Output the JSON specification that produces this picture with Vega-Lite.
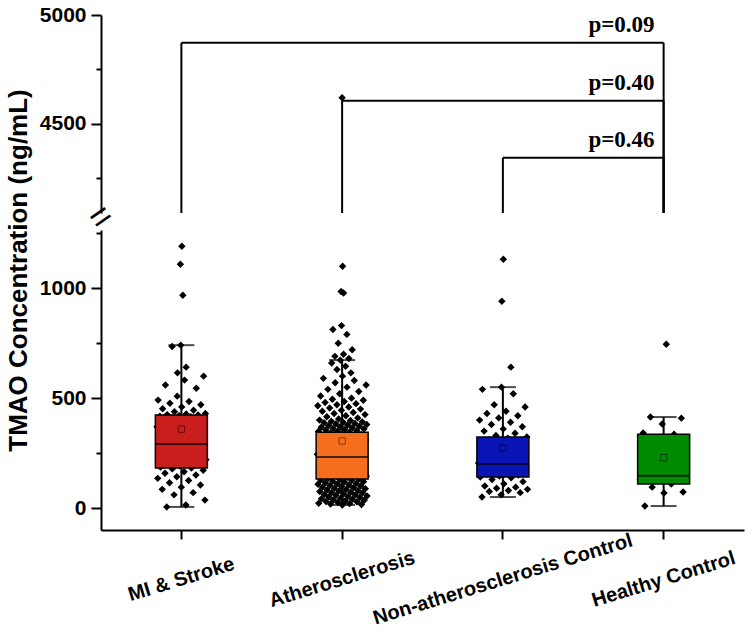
{
  "$schema": "https://vega.github.io/schema/vega-lite/v6.json",
  "padding": {"left": 5, "top": 4, "right": 5, "bottom": 5},
  "background": "white",
  "bounds": "flush",
  "spacing": 17,
  "config": {
    "view": {"stroke": null},
    "axis": {
      "grid": false,
      "domainColor": "black",
      "domainWidth": 2,
      "tickColor": "black",
      "tickWidth": 2,
      "labelFont": "Liberation Sans",
      "labelFontWeight": "bold",
      "labelColor": "black",
      "titleFont": "Liberation Sans",
      "titleFontWeight": "bold",
      "titleColor": "black"
    }
  },
  "datasets": {
    "stats": [
      {"group": "MI & Stroke", "lo": 5, "q1": 182, "med": 291, "q3": 423, "hi": 741, "mean": 359},
      {"group": "Atherosclerosis", "lo": 14, "q1": 132, "med": 232, "q3": 345, "hi": 673, "mean": 305},
      {"group": "Non-atherosclerosis Control", "lo": 50, "q1": 141, "med": 200, "q3": 323, "hi": 550, "mean": 273},
      {"group": "Healthy Control", "lo": 9, "q1": 109, "med": 147, "q3": 336, "hi": 414, "mean": 229}
    ],
    "brackets": [
      {"from": "MI & Stroke", "to": "Healthy Control", "y": 4872, "p": "p=0.09"},
      {"from": "Atherosclerosis", "to": "Healthy Control", "y": 4606, "p": "p=0.40"},
      {"from": "Non-atherosclerosis Control", "to": "Healthy Control", "y": 4344, "p": "p=0.46"}
    ],
    "points": [
      {"group": "MI & Stroke", "value": 1191}, {"group": "MI & Stroke", "value": 1109}, {"group": "MI & Stroke", "value": 968}, {"group": "MI & Stroke", "value": 741}, {"group": "MI & Stroke", "value": 735}, {"group": "MI & Stroke", "value": 641}, {"group": "MI & Stroke", "value": 615}, {"group": "MI & Stroke", "value": 600}, {"group": "MI & Stroke", "value": 582}, {"group": "MI & Stroke", "value": 560}, {"group": "MI & Stroke", "value": 545}, {"group": "MI & Stroke", "value": 509}, {"group": "MI & Stroke", "value": 491}, {"group": "MI & Stroke", "value": 485}, {"group": "MI & Stroke", "value": 477}, {"group": "MI & Stroke", "value": 470}, {"group": "MI & Stroke", "value": 460}, {"group": "MI & Stroke", "value": 452}, {"group": "MI & Stroke", "value": 445}, {"group": "MI & Stroke", "value": 438}, {"group": "MI & Stroke", "value": 430}, {"group": "MI & Stroke", "value": 428}, {"group": "MI & Stroke", "value": 425}, {"group": "MI & Stroke", "value": 423}, {"group": "MI & Stroke", "value": 420}, {"group": "MI & Stroke", "value": 418}, {"group": "MI & Stroke", "value": 415}, {"group": "MI & Stroke", "value": 410}, {"group": "MI & Stroke", "value": 405}, {"group": "MI & Stroke", "value": 398}, {"group": "MI & Stroke", "value": 390}, {"group": "MI & Stroke", "value": 385}, {"group": "MI & Stroke", "value": 378}, {"group": "MI & Stroke", "value": 370}, {"group": "MI & Stroke", "value": 362}, {"group": "MI & Stroke", "value": 355}, {"group": "MI & Stroke", "value": 350}, {"group": "MI & Stroke", "value": 342}, {"group": "MI & Stroke", "value": 335}, {"group": "MI & Stroke", "value": 328}, {"group": "MI & Stroke", "value": 320}, {"group": "MI & Stroke", "value": 312}, {"group": "MI & Stroke", "value": 305}, {"group": "MI & Stroke", "value": 298}, {"group": "MI & Stroke", "value": 292}, {"group": "MI & Stroke", "value": 288}, {"group": "MI & Stroke", "value": 280}, {"group": "MI & Stroke", "value": 272}, {"group": "MI & Stroke", "value": 265}, {"group": "MI & Stroke", "value": 258}, {"group": "MI & Stroke", "value": 250}, {"group": "MI & Stroke", "value": 242}, {"group": "MI & Stroke", "value": 235}, {"group": "MI & Stroke", "value": 228}, {"group": "MI & Stroke", "value": 220}, {"group": "MI & Stroke", "value": 212}, {"group": "MI & Stroke", "value": 205}, {"group": "MI & Stroke", "value": 198}, {"group": "MI & Stroke", "value": 192}, {"group": "MI & Stroke", "value": 186}, {"group": "MI & Stroke", "value": 182}, {"group": "MI & Stroke", "value": 178}, {"group": "MI & Stroke", "value": 172}, {"group": "MI & Stroke", "value": 165}, {"group": "MI & Stroke", "value": 158}, {"group": "MI & Stroke", "value": 150}, {"group": "MI & Stroke", "value": 142}, {"group": "MI & Stroke", "value": 135}, {"group": "MI & Stroke", "value": 125}, {"group": "MI & Stroke", "value": 115}, {"group": "MI & Stroke", "value": 105}, {"group": "MI & Stroke", "value": 95}, {"group": "MI & Stroke", "value": 85}, {"group": "MI & Stroke", "value": 70}, {"group": "MI & Stroke", "value": 60}, {"group": "MI & Stroke", "value": 36}, {"group": "MI & Stroke", "value": 14}, {"group": "MI & Stroke", "value": 5},
      {"group": "Atherosclerosis", "value": 4620}, {"group": "Atherosclerosis", "value": 1100}, {"group": "Atherosclerosis", "value": 985}, {"group": "Atherosclerosis", "value": 978}, {"group": "Atherosclerosis", "value": 830}, {"group": "Atherosclerosis", "value": 812}, {"group": "Atherosclerosis", "value": 790}, {"group": "Atherosclerosis", "value": 750}, {"group": "Atherosclerosis", "value": 720}, {"group": "Atherosclerosis", "value": 700}, {"group": "Atherosclerosis", "value": 690}, {"group": "Atherosclerosis", "value": 680}, {"group": "Atherosclerosis", "value": 673}, {"group": "Atherosclerosis", "value": 660}, {"group": "Atherosclerosis", "value": 645}, {"group": "Atherosclerosis", "value": 630}, {"group": "Atherosclerosis", "value": 615}, {"group": "Atherosclerosis", "value": 600}, {"group": "Atherosclerosis", "value": 590}, {"group": "Atherosclerosis", "value": 580}, {"group": "Atherosclerosis", "value": 570}, {"group": "Atherosclerosis", "value": 560}, {"group": "Atherosclerosis", "value": 550}, {"group": "Atherosclerosis", "value": 540}, {"group": "Atherosclerosis", "value": 530}, {"group": "Atherosclerosis", "value": 520}, {"group": "Atherosclerosis", "value": 510}, {"group": "Atherosclerosis", "value": 500}, {"group": "Atherosclerosis", "value": 495}, {"group": "Atherosclerosis", "value": 490}, {"group": "Atherosclerosis", "value": 485}, {"group": "Atherosclerosis", "value": 480}, {"group": "Atherosclerosis", "value": 475}, {"group": "Atherosclerosis", "value": 470}, {"group": "Atherosclerosis", "value": 465}, {"group": "Atherosclerosis", "value": 460}, {"group": "Atherosclerosis", "value": 455}, {"group": "Atherosclerosis", "value": 450}, {"group": "Atherosclerosis", "value": 445}, {"group": "Atherosclerosis", "value": 440}, {"group": "Atherosclerosis", "value": 435}, {"group": "Atherosclerosis", "value": 430}, {"group": "Atherosclerosis", "value": 425}, {"group": "Atherosclerosis", "value": 420}, {"group": "Atherosclerosis", "value": 415}, {"group": "Atherosclerosis", "value": 410}, {"group": "Atherosclerosis", "value": 405}, {"group": "Atherosclerosis", "value": 400}, {"group": "Atherosclerosis", "value": 398}, {"group": "Atherosclerosis", "value": 395}, {"group": "Atherosclerosis", "value": 392}, {"group": "Atherosclerosis", "value": 390}, {"group": "Atherosclerosis", "value": 388}, {"group": "Atherosclerosis", "value": 385}, {"group": "Atherosclerosis", "value": 382}, {"group": "Atherosclerosis", "value": 380}, {"group": "Atherosclerosis", "value": 378}, {"group": "Atherosclerosis", "value": 375}, {"group": "Atherosclerosis", "value": 372}, {"group": "Atherosclerosis", "value": 370}, {"group": "Atherosclerosis", "value": 368}, {"group": "Atherosclerosis", "value": 365}, {"group": "Atherosclerosis", "value": 362}, {"group": "Atherosclerosis", "value": 360}, {"group": "Atherosclerosis", "value": 358}, {"group": "Atherosclerosis", "value": 355}, {"group": "Atherosclerosis", "value": 352}, {"group": "Atherosclerosis", "value": 350}, {"group": "Atherosclerosis", "value": 348}, {"group": "Atherosclerosis", "value": 345}, {"group": "Atherosclerosis", "value": 340}, {"group": "Atherosclerosis", "value": 335}, {"group": "Atherosclerosis", "value": 330}, {"group": "Atherosclerosis", "value": 325}, {"group": "Atherosclerosis", "value": 320}, {"group": "Atherosclerosis", "value": 315}, {"group": "Atherosclerosis", "value": 310}, {"group": "Atherosclerosis", "value": 305}, {"group": "Atherosclerosis", "value": 300}, {"group": "Atherosclerosis", "value": 295}, {"group": "Atherosclerosis", "value": 290}, {"group": "Atherosclerosis", "value": 285}, {"group": "Atherosclerosis", "value": 280}, {"group": "Atherosclerosis", "value": 275}, {"group": "Atherosclerosis", "value": 270}, {"group": "Atherosclerosis", "value": 265}, {"group": "Atherosclerosis", "value": 260}, {"group": "Atherosclerosis", "value": 255}, {"group": "Atherosclerosis", "value": 250}, {"group": "Atherosclerosis", "value": 245}, {"group": "Atherosclerosis", "value": 240}, {"group": "Atherosclerosis", "value": 235}, {"group": "Atherosclerosis", "value": 232}, {"group": "Atherosclerosis", "value": 228}, {"group": "Atherosclerosis", "value": 224}, {"group": "Atherosclerosis", "value": 220}, {"group": "Atherosclerosis", "value": 215}, {"group": "Atherosclerosis", "value": 210}, {"group": "Atherosclerosis", "value": 205}, {"group": "Atherosclerosis", "value": 200}, {"group": "Atherosclerosis", "value": 195}, {"group": "Atherosclerosis", "value": 190}, {"group": "Atherosclerosis", "value": 185}, {"group": "Atherosclerosis", "value": 180}, {"group": "Atherosclerosis", "value": 175}, {"group": "Atherosclerosis", "value": 170}, {"group": "Atherosclerosis", "value": 165}, {"group": "Atherosclerosis", "value": 160}, {"group": "Atherosclerosis", "value": 155}, {"group": "Atherosclerosis", "value": 150}, {"group": "Atherosclerosis", "value": 145}, {"group": "Atherosclerosis", "value": 140}, {"group": "Atherosclerosis", "value": 135}, {"group": "Atherosclerosis", "value": 132}, {"group": "Atherosclerosis", "value": 130}, {"group": "Atherosclerosis", "value": 128}, {"group": "Atherosclerosis", "value": 125}, {"group": "Atherosclerosis", "value": 122}, {"group": "Atherosclerosis", "value": 120}, {"group": "Atherosclerosis", "value": 118}, {"group": "Atherosclerosis", "value": 115}, {"group": "Atherosclerosis", "value": 112}, {"group": "Atherosclerosis", "value": 110}, {"group": "Atherosclerosis", "value": 108}, {"group": "Atherosclerosis", "value": 105}, {"group": "Atherosclerosis", "value": 102}, {"group": "Atherosclerosis", "value": 100}, {"group": "Atherosclerosis", "value": 98}, {"group": "Atherosclerosis", "value": 95}, {"group": "Atherosclerosis", "value": 92}, {"group": "Atherosclerosis", "value": 90}, {"group": "Atherosclerosis", "value": 88}, {"group": "Atherosclerosis", "value": 85}, {"group": "Atherosclerosis", "value": 82}, {"group": "Atherosclerosis", "value": 80}, {"group": "Atherosclerosis", "value": 78}, {"group": "Atherosclerosis", "value": 75}, {"group": "Atherosclerosis", "value": 72}, {"group": "Atherosclerosis", "value": 70}, {"group": "Atherosclerosis", "value": 68}, {"group": "Atherosclerosis", "value": 65}, {"group": "Atherosclerosis", "value": 62}, {"group": "Atherosclerosis", "value": 60}, {"group": "Atherosclerosis", "value": 58}, {"group": "Atherosclerosis", "value": 55}, {"group": "Atherosclerosis", "value": 52}, {"group": "Atherosclerosis", "value": 50}, {"group": "Atherosclerosis", "value": 48}, {"group": "Atherosclerosis", "value": 45}, {"group": "Atherosclerosis", "value": 42}, {"group": "Atherosclerosis", "value": 40}, {"group": "Atherosclerosis", "value": 38}, {"group": "Atherosclerosis", "value": 35}, {"group": "Atherosclerosis", "value": 32}, {"group": "Atherosclerosis", "value": 30}, {"group": "Atherosclerosis", "value": 28}, {"group": "Atherosclerosis", "value": 25}, {"group": "Atherosclerosis", "value": 22}, {"group": "Atherosclerosis", "value": 20}, {"group": "Atherosclerosis", "value": 18}, {"group": "Atherosclerosis", "value": 16}, {"group": "Atherosclerosis", "value": 14},
      {"group": "Non-atherosclerosis Control", "value": 1132}, {"group": "Non-atherosclerosis Control", "value": 941}, {"group": "Non-atherosclerosis Control", "value": 641}, {"group": "Non-atherosclerosis Control", "value": 550}, {"group": "Non-atherosclerosis Control", "value": 540}, {"group": "Non-atherosclerosis Control", "value": 520}, {"group": "Non-atherosclerosis Control", "value": 470}, {"group": "Non-atherosclerosis Control", "value": 460}, {"group": "Non-atherosclerosis Control", "value": 440}, {"group": "Non-atherosclerosis Control", "value": 430}, {"group": "Non-atherosclerosis Control", "value": 420}, {"group": "Non-atherosclerosis Control", "value": 410}, {"group": "Non-atherosclerosis Control", "value": 400}, {"group": "Non-atherosclerosis Control", "value": 390}, {"group": "Non-atherosclerosis Control", "value": 380}, {"group": "Non-atherosclerosis Control", "value": 370}, {"group": "Non-atherosclerosis Control", "value": 360}, {"group": "Non-atherosclerosis Control", "value": 350}, {"group": "Non-atherosclerosis Control", "value": 340}, {"group": "Non-atherosclerosis Control", "value": 330}, {"group": "Non-atherosclerosis Control", "value": 323}, {"group": "Non-atherosclerosis Control", "value": 318}, {"group": "Non-atherosclerosis Control", "value": 310}, {"group": "Non-atherosclerosis Control", "value": 300}, {"group": "Non-atherosclerosis Control", "value": 290}, {"group": "Non-atherosclerosis Control", "value": 280}, {"group": "Non-atherosclerosis Control", "value": 270}, {"group": "Non-atherosclerosis Control", "value": 260}, {"group": "Non-atherosclerosis Control", "value": 250}, {"group": "Non-atherosclerosis Control", "value": 240}, {"group": "Non-atherosclerosis Control", "value": 230}, {"group": "Non-atherosclerosis Control", "value": 220}, {"group": "Non-atherosclerosis Control", "value": 210}, {"group": "Non-atherosclerosis Control", "value": 205}, {"group": "Non-atherosclerosis Control", "value": 200}, {"group": "Non-atherosclerosis Control", "value": 195}, {"group": "Non-atherosclerosis Control", "value": 190}, {"group": "Non-atherosclerosis Control", "value": 185}, {"group": "Non-atherosclerosis Control", "value": 180}, {"group": "Non-atherosclerosis Control", "value": 175}, {"group": "Non-atherosclerosis Control", "value": 170}, {"group": "Non-atherosclerosis Control", "value": 165}, {"group": "Non-atherosclerosis Control", "value": 160}, {"group": "Non-atherosclerosis Control", "value": 155}, {"group": "Non-atherosclerosis Control", "value": 150}, {"group": "Non-atherosclerosis Control", "value": 145}, {"group": "Non-atherosclerosis Control", "value": 141}, {"group": "Non-atherosclerosis Control", "value": 138}, {"group": "Non-atherosclerosis Control", "value": 130}, {"group": "Non-atherosclerosis Control", "value": 120}, {"group": "Non-atherosclerosis Control", "value": 110}, {"group": "Non-atherosclerosis Control", "value": 100}, {"group": "Non-atherosclerosis Control", "value": 95}, {"group": "Non-atherosclerosis Control", "value": 90}, {"group": "Non-atherosclerosis Control", "value": 85}, {"group": "Non-atherosclerosis Control", "value": 80}, {"group": "Non-atherosclerosis Control", "value": 75}, {"group": "Non-atherosclerosis Control", "value": 70}, {"group": "Non-atherosclerosis Control", "value": 60}, {"group": "Non-atherosclerosis Control", "value": 50},
      {"group": "Healthy Control", "value": 745}, {"group": "Healthy Control", "value": 414}, {"group": "Healthy Control", "value": 409}, {"group": "Healthy Control", "value": 382}, {"group": "Healthy Control", "value": 341}, {"group": "Healthy Control", "value": 336}, {"group": "Healthy Control", "value": 320}, {"group": "Healthy Control", "value": 290}, {"group": "Healthy Control", "value": 250}, {"group": "Healthy Control", "value": 200}, {"group": "Healthy Control", "value": 160}, {"group": "Healthy Control", "value": 147}, {"group": "Healthy Control", "value": 130}, {"group": "Healthy Control", "value": 109}, {"group": "Healthy Control", "value": 95}, {"group": "Healthy Control", "value": 73}, {"group": "Healthy Control", "value": 68}, {"group": "Healthy Control", "value": 9}
    ]
  },
  "vconcat": [
    {
      "width": 643,
      "height": 198,
      "layer": [
        {
          "data": {"name": "brackets"},
          "mark": {"type": "rule", "color": "black", "strokeWidth": 2},
          "encoding": {
            "x": {"field": "from", "type": "nominal", "sort": null, "scale": {"domain": ["MI & Stroke", "Atherosclerosis", "Non-atherosclerosis Control", "Healthy Control"], "paddingInner": 0, "paddingOuter": 0}, "axis": null},
            "x2": {"field": "to"},
            "y": {"field": "y", "type": "quantitative", "scale": {"domain": [4090, 5000], "nice": false, "zero": false},
              "axis": {"title": null, "values": [4250, 4500, 4750, 5000], "labelExpr": "datum.value % 500 === 0 ? datum.label : ''", "labelFontSize": 21, "labelPadding": 5, "tickSize": {"condition": {"test": "datum.value % 500 === 0", "value": 10}, "value": 5}, "format": "d"}}
          }
        },
        {
          "data": {"name": "brackets"},
          "mark": {"type": "rule", "color": "black", "strokeWidth": 2},
          "encoding": {
            "x": {"field": "from", "type": "nominal"},
            "y": {"field": "y", "type": "quantitative"},
            "y2": {"datum": 4090}
          }
        },
        {
          "data": {"name": "brackets"},
          "mark": {"type": "rule", "color": "black", "strokeWidth": 2},
          "encoding": {
            "x": {"field": "to", "type": "nominal"},
            "y": {"field": "y", "type": "quantitative"},
            "y2": {"datum": 4090}
          }
        },
        {
          "data": {"name": "brackets"},
          "mark": {"type": "text", "align": "right", "baseline": "alphabetic", "dx": -9, "dy": -11, "font": "Liberation Serif", "fontWeight": "bold", "fontSize": 23, "color": "black"},
          "encoding": {
            "x": {"field": "to", "type": "nominal"},
            "y": {"field": "y", "type": "quantitative"},
            "text": {"field": "p"}
          }
        },
        {
          "data": {"name": "points"},
          "transform": [{"filter": "datum.value > 2000"}],
          "mark": {"type": "point", "shape": "diamond", "filled": true, "color": "black", "size": 55, "opacity": 1},
          "encoding": {
            "x": {"field": "group", "type": "nominal"},
            "y": {"field": "value", "type": "quantitative"}
          }
        }
      ]
    },
    {
      "width": 643,
      "height": 300,
      "layer": [
        {
          "data": {"name": "points"},
          "transform": [
            {"filter": "datum.value < 2000"},
            {"window": [{"op": "row_number", "as": "i"}], "groupby": ["group"]},
            {"calculate": "(((datum.i * 0.618034) % 1) - 0.5) * (datum.value > 900 ? 0.08 : datum.value > 600 ? 0.45 : 1)", "as": "jit"}
          ],
          "mark": {"type": "point", "shape": "diamond", "filled": true, "color": "black", "size": 55, "opacity": 1},
          "encoding": {
            "x": {"field": "group", "type": "nominal", "sort": null, "scale": {"domain": ["MI & Stroke", "Atherosclerosis", "Non-atherosclerosis Control", "Healthy Control"], "paddingInner": 0, "paddingOuter": 0},
              "axis": {"title": null, "labelAngle": -17, "labelAlign": "center", "labelBaseline": "middle", "labelPadding": 40, "labelFontSize": 20, "labelLimit": 0, "tickSize": 9}},
            "xOffset": {"field": "jit", "type": "quantitative", "scale": {"domain": [-0.5, 0.5], "range": [55.4, 105.4]}},
            "y": {"field": "value", "type": "quantitative", "scale": {"domain": [-100, 1265], "nice": false, "zero": false},
              "axis": {"title": "TMAO Concentration (ng/mL)", "titleFontSize": 26, "titleY": 40, "titlePadding": 8, "values": [0, 250, 500, 750, 1000, 1250], "labelExpr": "datum.value % 500 === 0 ? datum.label : ''", "labelFontSize": 21, "labelPadding": 5, "tickSize": {"condition": {"test": "datum.value % 500 === 0", "value": 10}, "value": 5}, "format": "d"}}
          }
        },
        {
          "data": {"name": "stats"},
          "mark": {"type": "rule", "color": "black", "strokeWidth": 2},
          "encoding": {
            "x": {"field": "group", "type": "nominal"},
            "y": {"field": "lo", "type": "quantitative"},
            "y2": {"field": "hi"}
          }
        },
        {
          "data": {"name": "stats"},
          "mark": {"type": "bar", "size": 52, "stroke": "black", "strokeWidth": 1.5},
          "encoding": {
            "x": {"field": "group", "type": "nominal"},
            "y": {"field": "q1", "type": "quantitative"},
            "y2": {"field": "q3"},
            "color": {"field": "group", "type": "nominal", "legend": null, "scale": {"domain": ["MI & Stroke", "Atherosclerosis", "Non-atherosclerosis Control", "Healthy Control"], "range": ["#C81E1E", "#F56E1E", "#0A14B4", "#008C00"]}}
          }
        },
        {
          "data": {"name": "stats"},
          "mark": {"type": "tick", "color": "black", "size": 52, "thickness": 2},
          "encoding": {
            "x": {"field": "group", "type": "nominal"},
            "y": {"field": "med", "type": "quantitative"}
          }
        },
        {
          "data": {"name": "stats"},
          "mark": {"type": "tick", "color": "black", "size": 26, "thickness": 2},
          "encoding": {
            "x": {"field": "group", "type": "nominal"},
            "y": {"field": "lo", "type": "quantitative"}
          }
        },
        {
          "data": {"name": "stats"},
          "mark": {"type": "tick", "color": "black", "size": 26, "thickness": 2},
          "encoding": {
            "x": {"field": "group", "type": "nominal"},
            "y": {"field": "hi", "type": "quantitative"}
          }
        },
        {
          "data": {"name": "stats"},
          "mark": {"type": "point", "shape": "square", "filled": false, "size": 40, "strokeWidth": 1, "opacity": 1},
          "encoding": {
            "x": {"field": "group", "type": "nominal"},
            "y": {"field": "mean", "type": "quantitative"},
            "stroke": {"field": "group", "type": "nominal", "legend": null, "scale": {"domain": ["MI & Stroke", "Atherosclerosis", "Non-atherosclerosis Control", "Healthy Control"], "range": ["#6A0A0A", "#8A3A08", "#02075A", "#004400"]}}
          }
        },
        {
          "data": {"values": [{"mark": "="}]},
          "mark": {"type": "text", "angle": -35, "fontSize": 36, "font": "Liberation Sans", "color": "black", "align": "center", "baseline": "middle", "clip": false},
          "encoding": {
            "x": {"datum": "MI & Stroke", "type": "nominal", "bandPosition": 0},
            "y": {"datum": 1322, "type": "quantitative"},
            "text": {"field": "mark"}
          }
        }
      ]
    }
  ]
}
